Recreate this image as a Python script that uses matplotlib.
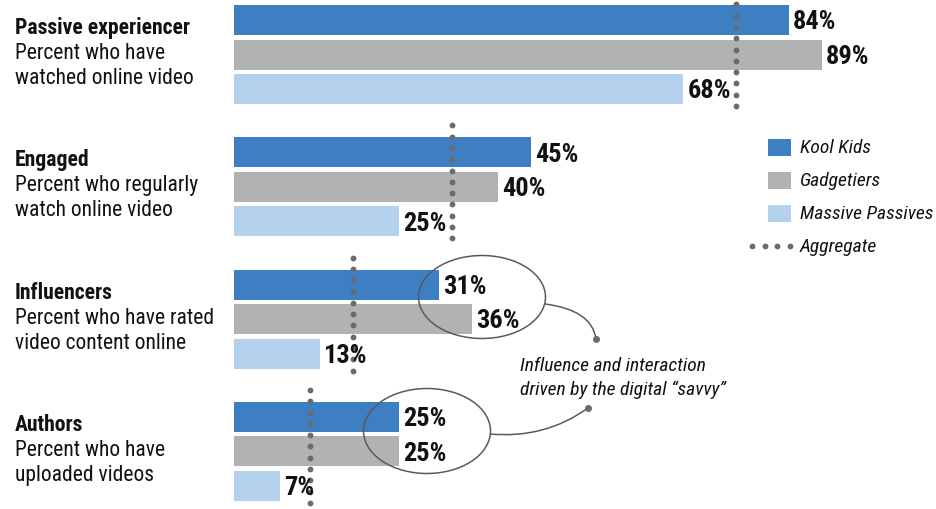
import matplotlib
matplotlib.use("Agg")
import matplotlib.pyplot as plt
from matplotlib import font_manager
from matplotlib.patches import Ellipse, Rectangle, PathPatch
from matplotlib.path import Path
from matplotlib.transforms import Affine2D
import numpy as np

# ---------------- data ----------------
groups = ["Passive experiencer", "Engaged", "Influencers", "Authors"]
descriptions = [
    ["Percent who have", "watched online video"],
    ["Percent who regularly", "watch online video"],
    ["Percent who have rated", "video content online"],
    ["Percent who have", "uploaded videos"],
]
series = ["Kool Kids", "Gadgetiers", "Massive Passives"]
kool_kids = [84, 45, 31, 25]
gadgetiers = [89, 40, 36, 25]
massive_passives = [68, 25, 13, 7]
aggregate = [76, 33, 18, 11.5]
annotation_text = "Influence and interaction\ndriven by the digital \u201csavvy\u201d"

colors = ["#3e7fc3", "#b1b2b4", "#b4d2ee"]
dot_color = "#6b6b6e"
text_color = "#111111"

# ---------------- font ----------------
available = {f.name for f in font_manager.fontManager.ttflist}
family = "Liberation Sans"
for cand in ["Liberation Sans Narrow", "Roboto Condensed", "Arial Narrow",
             "Open Sans Condensed", "Liberation Sans"]:
    if cand in available:
        family = cand
        break
plt.rcParams["font.family"] = [family, "DejaVu Sans"]

W, H = 936, 510
fig = plt.figure(figsize=(W / 100, H / 100), dpi=100)
ax = fig.add_axes([0, 0, 1, 1])
PX_PER_PCT = 6.607
X0 = 234
ax.set_xlim(-X0 / PX_PER_PCT, (W - X0) / PX_PER_PCT)
ax.set_ylim(H, 0)
ax.axis("off")

# pixel transform (origin top-left)
px = Affine2D().scale(1 / W, -1 / H).translate(0, 1) + fig.transFigure

FIRST_TOP = 6
GROUP_STEP = 132.3
PITCH = 34.5
BAR_H = 30
DOT_STEP = 11.3
DOT_MS = 4.2

values = [kool_kids, gadgetiers, massive_passives]
for g in range(len(groups)):
    top = FIRST_TOP + g * GROUP_STEP
    for s in range(len(series)):
        yc = top + s * PITCH + BAR_H / 2
        v = values[s][g]
        ax.barh(yc, v, height=BAR_H, left=0, color=colors[s], zorder=2)
        ax.annotate(f"{v}%", xy=(v, yc), xytext=(3, -1), textcoords="offset points",
                    ha="left", va="center", fontsize=19, fontweight="bold",
                    color=text_color, zorder=5)
    bottom = top + 2 * PITCH + BAR_H
    ys = np.arange(top - 12, bottom + 4, DOT_STEP)
    ax.plot(np.full(len(ys), aggregate[g]), ys, linestyle="none", marker="o",
            ms=DOT_MS, color=dot_color, markeredgewidth=0, zorder=4, clip_on=False)
    # left labels
    base = top + 28
    fig.text(15, base, groups[g], transform=px, fontsize=15.6, fontweight="bold",
             va="baseline", ha="left", color=text_color)
    for i, line in enumerate(descriptions[g]):
        fig.text(15, base + 25 * (i + 1), line, transform=px, fontsize=15.5,
                 va="baseline", ha="left", color=text_color)

# ---------------- legend ----------------
leg_y = [148, 181, 214]
for s in range(len(series)):
    fig.patches.append(Rectangle((768, leg_y[s] - 8.5), 23, 17, transform=px,
                                 facecolor=colors[s], edgecolor="none"))
    fig.text(800, leg_y[s], series[s], transform=px, fontsize=14, style="italic",
             va="center", ha="left", color=text_color)
leg_dots_x = np.linspace(752, 790, 4)
fig.add_artist(plt.Line2D(leg_dots_x, np.full(4, 247), transform=px, color=dot_color,
                          linestyle="none", marker="o", ms=DOT_MS, markeredgewidth=0))
fig.text(800, 247, "Aggregate", transform=px, fontsize=14, style="italic",
         va="center", ha="left", color=text_color)

# ---------------- callout ----------------
ell_color = "#5a5a5a"
fig.patches.append(Ellipse((482, 298), 127, 83, transform=px, fill=False,
                           edgecolor=ell_color, lw=1.1))
fig.patches.append(Ellipse((427, 432), 127, 85, transform=px, fill=False,
                           edgecolor=ell_color, lw=1.1))
for p0, p1, p2 in [((545, 305), (592, 311), (596, 340)),
                   ((490, 435), (545, 440), (588, 409))]:
    path = Path([p0, p1, p2], [Path.MOVETO, Path.CURVE3, Path.CURVE3])
    fig.patches.append(PathPatch(path, transform=px, fill=False,
                                 edgecolor=ell_color, lw=1.1))
    fig.add_artist(plt.Line2D([p2[0]], [p2[1]], transform=px, marker="o",
                              markersize=4, color=dot_color, lw=0))
fig.text(520, 378, annotation_text, transform=px, fontsize=14, style="italic",
         va="center", ha="left", color=text_color, linespacing=1.35)

fig.savefig("out.png", dpi=100)
